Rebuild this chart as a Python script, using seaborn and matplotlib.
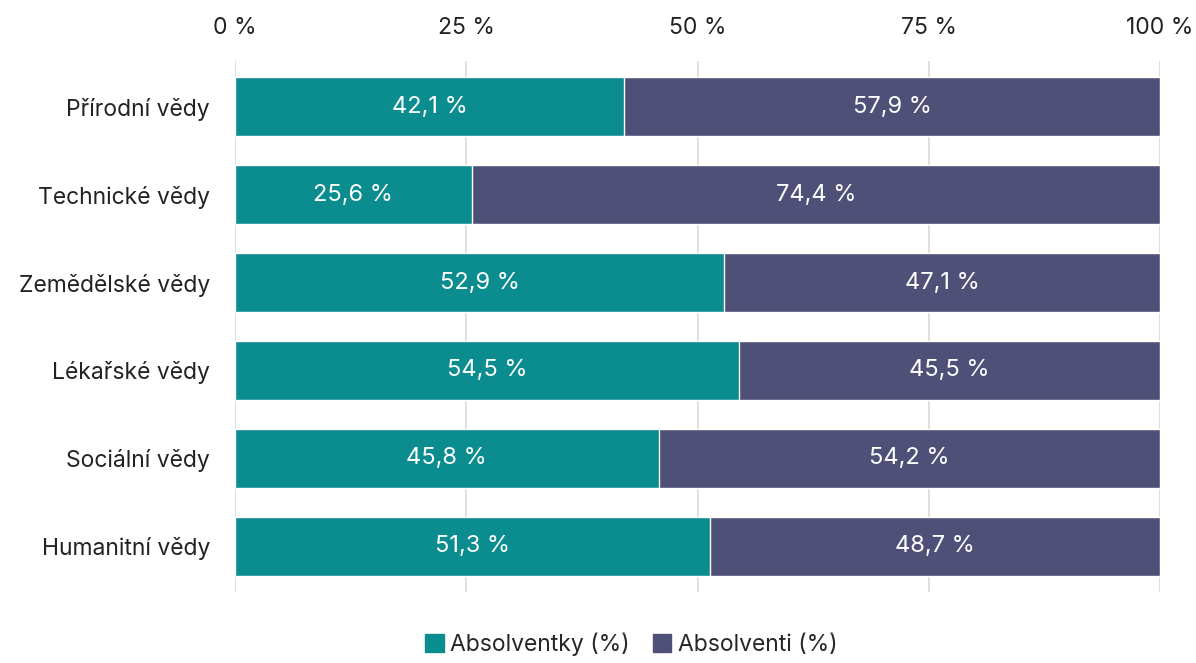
import pandas as pd
import seaborn as sns
import matplotlib.pyplot as plt
from matplotlib.patches import Patch

# data
categories = ['Přírodní vědy', 'Technické vědy', 'Zemědělské vědy',
              'Lékařské vědy', 'Sociální vědy', 'Humanitní vědy']
absolventky = [42.1, 25.6, 52.9, 54.5, 45.8, 51.3]
absolventi = [57.9, 74.4, 47.1, 45.5, 54.2, 48.7]
series_names = ['Absolventky (%)', 'Absolventi (%)']
x_ticks = [0, 25, 50, 75, 100]

teal = '#0b8c8e'
purple = '#4f5077'
fs = 16.5

sns.set_theme(style='white')
plt.rcParams['font.family'] = ['Inter', 'DejaVu Sans']

df = pd.DataFrame({'kat': categories, 'f': absolventky, 'm': absolventi})
df['total'] = df['f'] + df['m']

fig = plt.figure(figsize=(11.96, 6.63), dpi=100)
ax = fig.add_axes([0.1965, 0.107, 0.7735, 0.801])

# purple bar for the full width, teal on top of it
sns.barplot(data=df, y='kat', x='total', color=purple, orient='h',
            width=0.67, saturation=1, ax=ax, zorder=2)
sns.barplot(data=df, y='kat', x='f', color=teal, orient='h',
            width=0.67, saturation=1, ax=ax, zorder=3)

c_total, c_f = ax.containers[0], ax.containers[1]
fmt = lambda v: f'{v:.1f} %'.replace('.', ',')
ax.bar_label(c_f, labels=[fmt(v) for v in absolventky], label_type='center',
             color='white', fontsize=fs + 0.5)
# label for the purple part centred in its own segment
for bar, f, m in zip(c_total, absolventky, absolventi):
    y = bar.get_y() + bar.get_height() / 2
    ax.text(f + m / 2, y, fmt(m), ha='center', va='center',
            color='white', fontsize=fs + 0.5, zorder=4)

ax.set_xlim(0, 100)
ax.set_ylim(5.52, -0.52)
ax.set_xticks(x_ticks)
ax.set_xticklabels([f'{t} %' for t in x_ticks], fontsize=fs, color='#222222')
ax.xaxis.tick_top()
ax.tick_params(axis='x', length=0, pad=16)
ax.tick_params(axis='y', length=0, pad=18, labelsize=fs, labelcolor='#222222')
ax.set_xlabel('')
ax.set_ylabel('')
ax.grid(axis='x', color='#d9d9d9', linewidth=1.2, zorder=0)
ax.set_axisbelow(True)
for s in ax.spines.values():
    s.set_visible(False)

handles = [Patch(color=teal), Patch(color=purple)]
fig.legend(handles, series_names, loc='center', bbox_to_anchor=(0.528, 0.028),
           ncol=2, frameon=False, fontsize=fs, handlelength=0.8,
           handleheight=0.8, handletextpad=0.3, columnspacing=1.0)

fig.savefig('out.png', dpi=100)
